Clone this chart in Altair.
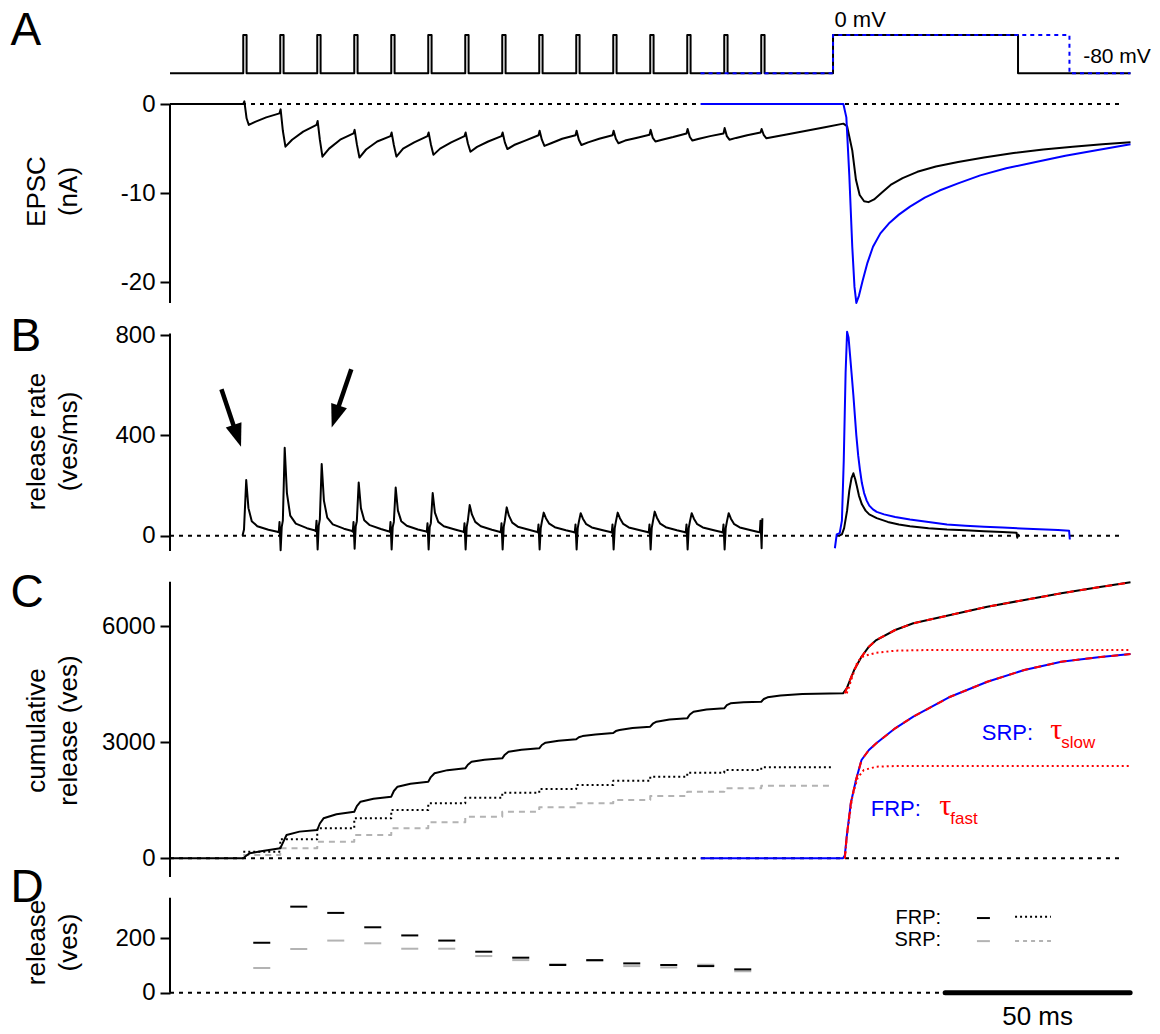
import altair as alt
import pandas as pd

FONT = "Liberation Sans"
BLUE = "#0000ff"
RED = "#ff0000"
GREY = "#b3b3b3"

# ---------------------------------------------------------------- time base (ms)
T_END = 259.6
PLOT_W = 960.5
X_SCALE = alt.Scale(domain=[0, T_END], nice=False, zero=False)

# ---------------------------------------------------------------- stimulus protocol
pulse_on = [19.8, 29.8, 39.8, 49.8, 59.8, 69.8, 79.8, 89.8, 99.8, 109.8,
            119.8, 129.8, 139.8, 149.8, 159.8]
pulse_width = 0.9
step_on = 179.2
step_off_ctrl = 229.2
step_off_long = 243.1
long_start = 143.4
V_HOLD, V_STEP = -80, 0

# ---------------------------------------------------------------- A: EPSC (nA)
a_ctrl_t = [0, 19.8, 20.1, 20.7, 21.3, 23, 26, 29.6,
            29.9, 30.5, 31.2, 33, 36, 39.6,
            39.9, 40.5, 41.2, 43, 46, 49.6,
            49.9, 50.5, 51.2, 53, 56, 59.6,
            59.9, 60.5, 61.2, 63, 66, 69.6,
            69.9, 70.5, 71.2, 73, 76, 79.6,
            79.9, 80.5, 81.2, 83, 86, 89.6,
            89.9, 90.5, 91.2, 93, 96, 99.6,
            99.9, 100.5, 101.2, 103, 106, 109.6,
            109.9, 110.5, 111.2, 113, 116, 119.6,
            119.9, 120.5, 121.2, 123, 126, 129.6,
            129.9, 130.5, 131.2, 133, 136, 139.6,
            139.9, 140.5, 141.2, 143, 146, 149.6,
            149.9, 150.5, 151.2, 153, 156, 159.6,
            159.9, 160.5, 161.2, 163, 167, 172, 177, 182.0,
            183.0, 184.4, 185.4, 186.4, 187.6, 188.8, 190.3, 192.5, 195, 198,
            202, 207, 213, 220, 228, 236, 244, 252, 259.6]
a_ctrl_v = [0, 0, 0.3, -1.6, -2.35, -2.0, -1.5, -1.05,
            -0.6, -3.0, -4.78, -4.0, -3.1, -2.35,
            -1.9, -4.0, -5.9, -5.0, -4.0, -3.3,
            -2.9, -4.5, -6.0, -5.1, -4.2, -3.6,
            -3.2, -4.6, -5.9, -5.0, -4.3, -3.6,
            -3.2, -4.5, -5.7, -5.0, -4.3, -3.6,
            -3.2, -4.4, -5.35, -4.8, -4.2, -3.6,
            -3.2, -4.3, -5.05, -4.6, -4.1, -3.5,
            -3.0, -4.0, -4.7, -4.4, -3.9, -3.5,
            -3.0, -4.0, -4.6, -4.3, -3.9, -3.5,
            -3.0, -3.9, -4.4, -4.1, -3.8, -3.45,
            -2.9, -3.8, -4.2, -4.0, -3.7, -3.3,
            -2.8, -3.7, -4.1, -3.9, -3.6, -3.3,
            -2.7, -3.6, -4.0, -3.8, -3.5, -3.2,
            -2.8, -3.5, -3.85, -3.7, -3.4, -3.0, -2.6, -2.2,
            -2.5, -5.2, -8.5, -10.2, -10.9, -11.0, -10.7, -9.9, -9.0, -8.3,
            -7.6, -7.0, -6.5, -6.0, -5.5, -5.1, -4.8, -4.5, -4.3]

a_long_t = [143.4, 182.0, 182.8, 183.6, 184.4, 185.0, 185.5, 186.2, 187.2, 188.5,
            190, 192, 194.5, 197, 200, 204, 208, 213, 219, 226, 234, 242, 250, 259.6]
a_long_v = [0, 0, -1.5, -8, -16, -20.5, -22.3, -21.5, -19.8, -17.8,
            -16.0, -14.5, -13.3, -12.4, -11.5, -10.5, -9.7, -8.9, -8.0, -7.2,
            -6.5, -5.8, -5.2, -4.5]

# ---------------------------------------------------------------- B: release rate (ves/ms)
b_ctrl_t = [19.6, 20.0, 20.6, 21.2, 22.1, 23.6, 26.6, 29.0,
            29.4, 29.6, 29.9, 30.2, 30.5, 31.0, 31.6, 32.5, 34.0, 37.0, 39.0,
            39.4, 39.6, 39.9, 40.2, 40.5, 41.0, 41.6, 42.5, 44.0, 47.0, 49.0,
            49.4, 49.6, 49.9, 50.2, 50.5, 51.0, 51.6, 52.5, 54.0, 57.0, 59.0,
            59.4, 59.6, 59.9, 60.2, 60.5, 61.0, 61.6, 62.5, 64.0, 67.0, 69.0,
            69.4, 69.6, 69.9, 70.2, 70.5, 71.0, 71.6, 72.5, 74.0, 77.0, 79.0,
            79.4, 79.6, 79.9, 80.2, 80.5, 81.0, 81.6, 82.5, 84.0, 87.0, 89.0,
            89.4, 89.6, 89.9, 90.2, 90.5, 91.0, 91.6, 92.5, 94.0, 97.0, 99.0,
            99.4, 99.6, 99.9, 100.2, 100.5, 101.0, 101.6, 102.5, 104.0, 107.0, 109.0,
            109.4, 109.6, 109.9, 110.2, 110.5, 111.0, 111.6, 112.5, 114.0, 117.0, 119.0,
            119.4, 119.6, 119.9, 120.2, 120.5, 121.0, 121.6, 122.5, 124.0, 127.0, 129.0,
            129.4, 129.6, 129.9, 130.2, 130.5, 131.0, 131.6, 132.5, 134.0, 137.0, 139.0,
            139.4, 139.6, 139.9, 140.2, 140.5, 141.0, 141.6, 142.5, 144.0, 147.0, 149.0,
            149.4, 149.6, 149.9, 150.2, 150.5, 151.0, 151.6, 152.5, 154.0, 157.0, 159.0,
            159.4, 159.6, 159.9, 160.1]
b_ctrl_v = [0, 25, 222, 110, 58, 38, 24, 16,
            14, 55, -58, 35, 60, 351, 170, 80, 48, 30, 22,
            18, 60, -55, 40, 65, 286, 140, 72, 45, 28, 20,
            16, 55, -52, 38, 58, 212, 110, 62, 42, 27, 18,
            15, 55, -55, 35, 55, 192, 100, 58, 40, 25, 18,
            15, 50, -55, 35, 50, 170, 92, 55, 38, 25, 17,
            14, 50, -55, 35, 60, 122, 85, 55, 38, 24, 16,
            14, 50, -55, 35, 60, 113, 80, 52, 36, 24, 16,
            13, 45, -55, 30, 55, 92, 70, 48, 34, 22, 15,
            13, 45, -55, 30, 55, 90, 68, 46, 33, 22, 15,
            13, 45, -55, 30, 55, 92, 70, 47, 33, 22, 15,
            13, 45, -55, 30, 55, 96, 72, 48, 34, 22, 15,
            13, 45, -55, 30, 55, 90, 68, 46, 33, 22, 15,
            13, 45, -55, 30, 55, 90, 68, 46, 33, 22, 15,
            14, 60, -50, 70]

b_step_t = [180.9, 181.6, 182.2, 183.0, 183.6, 184.2, 184.7, 185.2, 185.6, 186.2,
            187.0, 188.0, 189.0, 191.0, 194.0, 197.0, 200.0, 205.0, 210.0, 215.0,
            220.0, 225.0, 228.8, 229.0, 229.3]
b_step_v = [0, 5, 30, 100, 180, 230, 249, 225, 200, 160,
            125, 100, 85, 70, 55, 45, 38, 30, 25, 22,
            18, 15, 12, -8, 8]

b_long_t = [179.7, 180.2, 181.0, 181.6, 182.1, 182.6, 183.0, 183.4, 183.8, 184.2,
            184.7, 185.1, 185.5, 186.0, 186.5, 187.0, 187.6, 188.3, 189.0, 190.0,
            191.0, 193.0, 196.0, 200.0, 205.0, 210.0, 215.0, 220.0, 225.0, 230.0,
            235.0, 240.0, 243.0, 243.2]
b_long_v = [-50, 5, 10, 60, 300, 650, 813, 790, 720, 650,
            560, 480, 400, 320, 260, 210, 170, 140, 120, 105,
            95, 85, 75, 65, 55, 45, 40, 36, 33, 29,
            26, 23, 20, -15]

arrow_tail_t = [13.9, 49.0]
arrow_tail_v = [584, 664]
arrow_neck_t = [17.4, 45.4]
arrow_neck_v = [430, 508]
arrow_tip_t = [19.2, 43.7]
arrow_tip_v = [355, 432]
arrow_angle = [341.2, 18.7]

# ---------------------------------------------------------------- C: cumulative release (ves)
c_ctrl_t = [0, 19.8, 20.5, 21.5, 25, 29.8, 30.5, 31.5, 35, 39.8, 40.5, 41.5, 45, 49.8,
            50.5, 51.5, 55, 59.8, 60.5, 61.5, 65, 69.8, 70.5, 71.5, 75, 79.8,
            80.5, 81.5, 85, 89.8, 90.5, 91.5, 95, 99.8, 100.5, 101.5, 105, 109.8,
            110.5, 111.5, 115, 119.8, 120.5, 121.5, 125, 129.8, 130.5, 131.5, 135, 139.8,
            140.5, 141.5, 145, 149.8, 150.5, 151.5, 155, 159.8, 160.5, 161.5, 165, 170.9,
            181.9, 182.9, 184.9, 186.9, 188.9, 190.9, 196.0, 200.9, 210.9, 220.9,
            230.9, 240.9, 250.9, 259.6]
c_ctrl_v = [0, 0, 60, 129, 190, 259, 400, 603, 690, 732, 900, 1034, 1140, 1205,
            1350, 1464, 1540, 1593, 1740, 1852, 1930, 1981, 2100, 2198, 2280, 2327,
            2420, 2498, 2550, 2586, 2680, 2757, 2810, 2845, 2930, 2990, 3040, 3077,
            3130, 3160, 3200, 3240, 3290, 3318, 3370, 3403, 3480, 3533, 3590, 3620,
            3720, 3791, 3850, 3879, 3960, 4008, 4035, 4050, 4120, 4163, 4210, 4249,
            4267, 4396, 4869, 5213, 5472, 5645, 5904, 6077, 6292, 6507,
            6680, 6853, 7008, 7137]

c_long_t = [143.4, 181.9, 182.4, 182.9, 184.0, 185.4, 186.9, 188.9, 190.9, 196.0,
            200.9, 210.9, 220.9, 230.9, 240.9, 250.9, 259.6]
c_long_v = [0, 0, 80, 559, 1422, 2025, 2542, 2801, 2974, 3362,
            3662, 4179, 4567, 4869, 5084, 5198, 5283]

# double-exponential fits (dashed) and their fast components (dotted)
fit_ctrl_t = [182.4, 182.9, 184.9, 186.9, 188.9, 190.9, 196.0, 200.9, 210.9, 220.9,
              230.9, 240.9, 250.9, 259.6]
fit_ctrl_v = [4267, 4396, 4869, 5213, 5472, 5645, 5904, 6077, 6292, 6507,
              6680, 6853, 7008, 7137]
fast_ctrl_t = [182.9, 183.4, 184.4, 185.8, 187.5, 190.9, 196.0, 205.0, 259.6]
fast_ctrl_v = [4267, 4400, 4696, 5084, 5231, 5317, 5369, 5387, 5387]
fit_long_t = [182.4, 182.9, 184.0, 185.4, 186.9, 188.9, 190.9, 196.0, 200.9, 210.9,
              220.9, 230.9, 240.9, 250.9, 259.6]
fit_long_v = [0, 559, 1422, 2025, 2542, 2801, 2974, 3362, 3662, 4179,
              4567, 4869, 5084, 5198, 5283]
fast_long_t = [182.4, 182.9, 184.4, 185.8, 187.5, 190.9, 196.0, 205.0, 259.6]
fast_long_v = [0, 559, 1593, 2069, 2283, 2369, 2387, 2387, 2387]

# per-stimulus cumulative FRP / SRP estimates (levels after each pulse)
frp_cum = [171, 491, 776, 1034, 1249, 1422, 1568, 1696, 1792, 1895, 2007, 2111,
           2215, 2283, 2353]
srp_cum = [85, 259, 430, 603, 776, 931, 1076, 1205, 1319, 1422, 1508, 1611,
           1722, 1810, 1877]
frp_cum_end = 179.0
srp_cum_end = 179.4

# ---------------------------------------------------------------- D: release per interval (ves)
rel_t = [24.8, 34.8, 44.8, 54.8, 64.8, 74.8, 84.8, 94.8, 104.8, 114.8, 124.8,
         134.8, 144.8, 154.8]
rel_frp = [184, 317, 294, 241, 211, 192, 151, 129, 102, 120, 108, 102, 98, 86]
rel_srp = [91, 161, 192, 182, 162, 162, 135, 120, 105, 118, 98, 93, 103, 79]
rel_half = 2.3

scalebar_t = [209.5, 259.5]

# ---------------------------------------------------------------- panel geometry
STIM_H, STIM_DOM = 83, [-110.7, 62.7]
A_H, A_DOM = 222, [-23.09, 1.794]
B_H, B_DOM = 256, [-120.8, 900.1]
C_H, C_DOM = 321, [-742, 7559]
D_H, D_DOM = 113, [-26.9, 389.4]
LETTER_X = -159.5
TITLE_X = -134
TICK_FS = 24
NOTE_FS = 22


def yscale(dom):
    return alt.Scale(domain=dom, nice=False, zero=False)


def y_axis(values, title, title_y):
    return alt.Axis(values=values, title=title, domain=False, grid=False,
                    ticks=True, tickSize=10, tickWidth=2, tickColor="black",
                    labelFont=FONT, labelFontSize=TICK_FS, labelColor="black",
                    labelPadding=5, labelExpr="'' + datum.value", labelOverlap=False,
                    titleFont=FONT, titleFontSize=26, titleFontWeight="normal",
                    titleColor="black", titleAngle=270, titleAlign="center",
                    titleBaseline="middle", titleLineHeight=32,
                    titleX=TITLE_X, titleY=title_y)


def trace(t, v, ysc, ax, color="black", width=2.0, dash=None):
    props = dict(color=color, strokeWidth=width, strokeJoin="round")
    if dash is not None:
        props["strokeDash"] = dash
    data = pd.DataFrame({"t": t, "v": v, "i": list(range(len(t)))})
    return alt.Chart(data).mark_line(**props).encode(
        x=alt.X("t:Q", scale=X_SCALE, axis=None),
        y=alt.Y("v:Q", scale=ysc, axis=ax),
        order=alt.Order("i:Q"),
    )


def hrule(t0, t1, v, ysc, ax, color="black", width=2.0, dash=None, cap="butt"):
    props = dict(color=color, strokeWidth=width, strokeCap=cap)
    if dash is not None:
        props["strokeDash"] = dash
    data = pd.DataFrame({"t": t0, "t2": t1, "v": v})
    return alt.Chart(data).mark_rule(**props).encode(
        x=alt.X("t:Q", scale=X_SCALE, axis=None), x2="t2:Q",
        y=alt.Y("v:Q", scale=ysc, axis=ax),
    )


def axis_line(lo, hi, ysc, ax):
    data = pd.DataFrame({"v": [lo], "v2": [hi]})
    return alt.Chart(data).mark_rule(color="black", strokeWidth=2).encode(
        x=alt.value(0), y=alt.Y("v:Q", scale=ysc, axis=ax), y2="v2:Q")


def note(t, v, s, ysc, ax, color="black", size=NOTE_FS, align="left",
         baseline="middle", font=FONT):
    data = pd.DataFrame({"t": [t], "v": [v], "s": [s]})
    return alt.Chart(data).mark_text(font=font, fontSize=size, color=color,
                                     align=align, baseline=baseline).encode(
        x=alt.X("t:Q", scale=X_SCALE, axis=None),
        y=alt.Y("v:Q", scale=ysc, axis=ax),
        text="s:N",
    )


def letter(ch, y_px):
    data = pd.DataFrame({"s": [ch]})
    return alt.Chart(data).mark_text(font=FONT, fontSize=46, color="black",
                                     align="left", baseline="alphabetic").encode(
        x=alt.value(LETTER_X), y=alt.value(y_px), text="s:N")


def steps(levels, t_start, t_end):
    ts, vs = [], []
    edges = t_start + [t_end]
    for k, lv in enumerate(levels):
        ts += [edges[k], edges[k + 1]]
        vs += [lv, lv]
    return ts, vs


# ---------------------------------------------------------------- stimulus panel
s_sc = yscale(STIM_DOM)
stim_t, stim_v = [0.0], [V_HOLD]
for on in pulse_on:
    stim_t += [on, on, on + pulse_width, on + pulse_width]
    stim_v += [V_HOLD, V_STEP, V_STEP, V_HOLD]
stim_t += [step_on, step_on, step_off_ctrl, step_off_ctrl, T_END]
stim_v += [V_HOLD, V_STEP, V_STEP, V_HOLD, V_HOLD]
long_t = [long_start, step_on, step_on, step_off_long, step_off_long, T_END]
long_v = [V_HOLD, V_HOLD, V_STEP, V_STEP, V_HOLD, V_HOLD]

stim_panel = alt.layer(
    trace(stim_t, stim_v, s_sc, None),
    trace(long_t, long_v, s_sc, None, color=BLUE, dash=[4, 4]),
    note(179.6, 17.3, "0 mV", s_sc, None, size=22, baseline="alphabetic"),
    note(246.8, -58.5, "-80 mV", s_sc, None, size=21, baseline="alphabetic"),
    letter("A", 40),
).properties(width=PLOT_W, height=STIM_H)

# ---------------------------------------------------------------- panel A
a_sc = yscale(A_DOM)
a_ax = y_axis([0, -10, -20], ["EPSC", "(nA)"], 103)
panel_a = alt.layer(
    axis_line(-22.3, 0, a_sc, a_ax),
    hrule([0], [257.4], [0], a_sc, a_ax, dash=[4, 5]),
    trace(a_ctrl_t, a_ctrl_v, a_sc, a_ax),
    trace(a_long_t, a_long_v, a_sc, a_ax, color=BLUE),
).properties(width=PLOT_W, height=A_H)

# ---------------------------------------------------------------- panel B
b_sc = yscale(B_DOM)
b_ax = y_axis([0, 400, 800], ["release rate", "(ves/ms)"], 131)
arrows = pd.DataFrame({"t": arrow_tail_t, "v": arrow_tail_v,
                       "t2": arrow_neck_t, "v2": arrow_neck_v,
                       "tt": arrow_tip_t, "vt": arrow_tip_v, "ang": arrow_angle})
arrow_shaft = alt.Chart(arrows).mark_rule(color="black", strokeWidth=4.5).encode(
    x=alt.X("t:Q", scale=X_SCALE, axis=None), x2="t2:Q",
    y=alt.Y("v:Q", scale=b_sc, axis=b_ax), y2="v2:Q")
arrow_head = alt.Chart(arrows).mark_point(
    shape="M0,0L-0.36,-1L0.36,-1Z", filled=True, size=2116, color="black",
    opacity=1, strokeWidth=0).encode(
    x=alt.X("tt:Q", scale=X_SCALE, axis=None),
    y=alt.Y("vt:Q", scale=b_sc, axis=b_ax),
    angle=alt.Angle("ang:Q", scale=None))
panel_b = alt.layer(
    axis_line(-61, 806, b_sc, b_ax),
    hrule([0], [257.4], [0], b_sc, b_ax, dash=[4, 5]),
    trace(b_ctrl_t, b_ctrl_v, b_sc, b_ax),
    trace(b_step_t, b_step_v, b_sc, b_ax),
    trace(b_long_t, b_long_v, b_sc, b_ax, color=BLUE),
    arrow_shaft, arrow_head,
    letter("B", 41),
).properties(width=PLOT_W, height=B_H)

# ---------------------------------------------------------------- panel C
c_sc = yscale(C_DOM)
c_ax = y_axis([0, 3000, 6000], ["cumulative", "release (ves)"], 164)
frp_t, frp_v = steps(frp_cum, pulse_on, frp_cum_end)
srp_t, srp_v = steps(srp_cum, pulse_on, srp_cum_end)
panel_c = alt.layer(
    axis_line(-484, 7153, c_sc, c_ax),
    hrule([0], [257.4], [0], c_sc, c_ax, dash=[4, 5]),
    trace(srp_t, srp_v, c_sc, c_ax, color=GREY, dash=[6, 5]),
    trace(frp_t, frp_v, c_sc, c_ax, dash=[2, 3]),
    trace(c_ctrl_t, c_ctrl_v, c_sc, c_ax),
    trace(c_long_t, c_long_v, c_sc, c_ax, color=BLUE),
    trace(fit_ctrl_t, fit_ctrl_v, c_sc, c_ax, color=RED, dash=[7, 6]),
    trace(fit_long_t, fit_long_v, c_sc, c_ax, color=RED, dash=[7, 6]),
    trace(fast_ctrl_t, fast_ctrl_v, c_sc, c_ax, color=RED, dash=[2, 3]),
    trace(fast_long_t, fast_long_v, c_sc, c_ax, color=RED, dash=[2, 3]),
    note(219.4, 3233, "SRP:", c_sc, c_ax, color=BLUE),
    note(237.9, 3330, "τ", c_sc, c_ax, color=RED, size=30, font="Liberation Serif"),
    note(240.9, 2989, "slow", c_sc, c_ax, color=RED, size=17),
    note(189.4, 1267, "FRP:", c_sc, c_ax, color=BLUE),
    note(207.9, 1360, "τ", c_sc, c_ax, color=RED, size=30, font="Liberation Serif"),
    note(210.9, 1009, "fast", c_sc, c_ax, color=RED, size=17),
    letter("C", 41),
).properties(width=PLOT_W, height=C_H)

# ---------------------------------------------------------------- panel D
d_sc = yscale(D_DOM)
d_ax = y_axis([0, 200], ["release", "(ves)"], 55)
bar_lo = [t - rel_half for t in rel_t]
bar_hi = [t + rel_half for t in rel_t]
panel_d = alt.layer(
    axis_line(0, 350, d_sc, d_ax),
    hrule([0], [scalebar_t[0]], [0], d_sc, d_ax, dash=[4, 5]),
    hrule(bar_lo, bar_hi, rel_srp, d_sc, d_ax, color=GREY),
    hrule(bar_lo, bar_hi, rel_frp, d_sc, d_ax),
    hrule([scalebar_t[0]], [scalebar_t[1]], [0], d_sc, d_ax, width=5, cap="round"),
    note(234.5, -119, "50 ms", d_sc, d_ax, size=26, align="center",
         baseline="alphabetic"),
    note(208.4, 277, "FRP:", d_sc, d_ax, size=20, align="right"),
    note(208.4, 193, "SRP:", d_sc, d_ax, size=20, align="right"),
    hrule([218.1], [221.6], [275], d_sc, d_ax),
    hrule([228.4], [238.1], [280], d_sc, d_ax, dash=[2, 3]),
    hrule([218.1], [221.6], [190], d_sc, d_ax, color=GREY),
    hrule([228.4], [238.1], [190], d_sc, d_ax, color=GREY, dash=[4, 4]),
    letter("D", 15),
).properties(width=PLOT_W, height=D_H)

chart = alt.vconcat(
    stim_panel, panel_a, panel_b, panel_c, panel_d, spacing=0, bounds="flush"
).properties(
    padding={"left": 10, "top": 5, "right": 2, "bottom": 1},
    background="white",
).configure_view(strokeWidth=0)

chart.save("out.html", embed_options={"renderer": "svg", "actions": False})
